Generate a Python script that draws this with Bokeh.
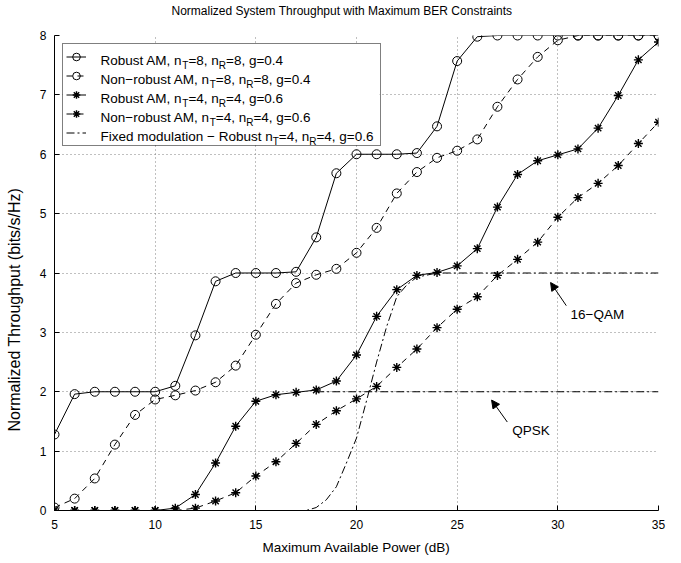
import re

from bokeh.plotting import figure
from bokeh.models import (Range1d, FixedTicker, Legend, LegendItem, Label,
                          Arrow, NormalHead, BoxAnnotation, Title)
from bokeh.embed import file_html
from bokeh.resources import INLINE

# ---- data -------------------------------------------------------------
power_db = list(range(5, 36))

robust_8x8 = [1.28, 1.96, 2.0, 2.0, 2.0, 2.0, 2.1, 2.95, 3.86, 4.0, 4.0, 4.0,
              4.02, 4.6, 5.68, 6.0, 6.0, 6.0, 6.02, 6.47, 7.57, 7.98,
              8.0, 8.0, 8.0, 8.0, 8.0, 8.0, 8.0, 8.0, 8.0]
nonrobust_8x8 = [0.05, 0.2, 0.54, 1.11, 1.61, 1.87, 1.94, 2.02, 2.16, 2.44,
                 2.96, 3.48, 3.83, 3.97, 4.07, 4.34, 4.76, 5.34, 5.70, 5.94,
                 6.06, 6.25, 6.80, 7.26, 7.64, 7.92, 8.0, 8.0, 8.0, 8.0, 8.0]
robust_4x4 = [0.0, 0.0, 0.0, 0.0, 0.0, 0.0, 0.04, 0.27, 0.80, 1.42, 1.84,
              1.95, 1.99, 2.03, 2.18, 2.62, 3.27, 3.72, 3.96, 4.01, 4.12,
              4.41, 5.11, 5.66, 5.89, 5.99, 6.09, 6.44, 6.99, 7.59, 7.89]
nonrobust_4x4 = [0.0, 0.0, 0.0, 0.0, 0.0, 0.0, 0.0, 0.04, 0.16, 0.30, 0.58,
                 0.82, 1.13, 1.45, 1.68, 1.88, 2.09, 2.41, 2.72, 3.08, 3.39,
                 3.60, 3.96, 4.23, 4.52, 4.94, 5.27, 5.51, 5.81, 6.18, 6.54]

# fixed modulation (robust, nT=4, nR=4, g=0.6)
fixed_db = [17.0, 17.5, 18.0, 18.5, 19.0, 19.5, 20.0, 20.5, 21.0, 21.5,
            22.0, 22.5, 23.0, 24.0, 35.0]
fixed_tp = [0.0, 0.0, 0.05, 0.18, 0.40, 0.80, 1.22, 1.85, 2.50, 3.10,
            3.60, 3.80, 3.93, 4.0, 4.0]
qpsk_db = [18.0, 35.0]
qpsk_tp = [2.0, 2.0]

legend_labels = [
    "Robust AM, n_{T}=8, n_{R}=8, g=0.4",
    "Non\u2212robust AM, n_{T}=8, n_{R}=8, g=0.4",
    "Robust AM, n_{T}=4, n_{R}=4, g=0.6",
    "Non\u2212robust AM, n_{T}=4, n_{R}=4, g=0.6",
    "Fixed modulation \u2212 Robust n_{T}=4, n_{R}=4, g=0.6",
]

x_ticks = [5, 10, 15, 20, 25, 30, 35]
y_ticks = [0, 1, 2, 3, 4, 5, 6, 7, 8]

# arrow annotations: (text, text_x, text_y, tail_x, tail_y, head_x, head_y)
notes = [
    ("16\u2212QAM", 30.63, 3.30, 30.42, 3.45, 29.64, 3.84),
    ("QPSK", 27.74, 1.35, 27.49, 1.49, 26.71, 1.86),
]

FONT = "Liberation Sans"

# plot frame in page pixels
FRAME_L, FRAME_R, FRAME_T, FRAME_B = 54, 658, 35, 510
X_LO, X_HI, Y_LO, Y_HI = 5, 35, 0, 8


def px_to_x(px):
    return X_LO + (px - FRAME_L) * (X_HI - X_LO) / (FRAME_R - FRAME_L)


def px_to_y(py):
    return Y_LO + (FRAME_B - py) * (Y_HI - Y_LO) / (FRAME_B - FRAME_T)


# ---- figure -----------------------------------------------------------
p = figure(width=681, height=563, output_backend="svg", toolbar_location=None,
           x_range=Range1d(X_LO, X_HI), y_range=Range1d(Y_LO, Y_HI),
           min_border_left=FRAME_L, min_border_right=681 - FRAME_R,
           min_border_top=FRAME_T, min_border_bottom=563 - FRAME_B,
           title=None)
p.outline_line_color = None
p.background_fill_color = "white"
p.border_fill_color = "white"

for ax, ticks in ((p.xaxis, x_ticks), (p.yaxis, y_ticks)):
    ax.ticker = FixedTicker(ticks=ticks)
    ax.major_tick_in = 5
    ax.major_tick_out = 0
    ax.minor_tick_line_color = None
    ax.axis_line_color = "black"
    ax.major_tick_line_color = "black"
    ax.major_label_text_font = FONT
    ax.major_label_text_font_size = "12px"
    ax.major_label_text_color = "black"
    ax.axis_label_text_font = FONT
    ax.axis_label_text_font_style = "normal"
    ax.axis_label_text_color = "black"

p.xaxis.major_label_standoff = 9
p.yaxis.major_label_standoff = 8
p.xaxis.axis_label = "Maximum Available Power (dB)"
p.xaxis.axis_label_text_font_size = "13.5px"
p.xaxis.axis_label_standoff = 8

# title above the frame, with a thin spacer between it and the frame
p.add_layout(Title(text=" ", text_font_size="1px", standoff=15), "above")
p.add_layout(Title(text="Normalized System Throughput with Maximum BER Constraints",
                   text_font=FONT, text_font_size="12px",
                   text_font_style="normal", text_color="black",
                   align="left", offset=117, standoff=0,
                   vertical_align="bottom"), "above")

# vertical axis title, placed to the left of the tick labels
p.add_layout(Title(text=" ", text_font_size="1px", standoff=11), "left")
p.add_layout(Title(text="Normalized Throughput (bits/s/Hz)",
                   text_font=FONT, text_font_size="16px",
                   text_font_style="normal", text_color="black",
                   align="left", offset=79, standoff=0,
                   vertical_align="bottom"), "left")

for g, ticks in ((p.xgrid, x_ticks), (p.ygrid, y_ticks)):
    g.ticker = FixedTicker(ticks=ticks)
    g.grid_line_color = "#808080"
    g.grid_line_dash = "1 3"
    g.grid_line_width = 1

# white panel behind the legend so the dotted grid does not show through
LEG_L, LEG_R, LEG_T, LEG_B = FRAME_L + 8, 379, FRAME_T + 8, 144
p.add_layout(BoxAnnotation(left=px_to_x(LEG_L), right=px_to_x(LEG_R),
                           top=px_to_y(LEG_T), bottom=px_to_y(LEG_B),
                           fill_color="white", fill_alpha=1,
                           line_color=None, level="underlay"))

# ---- series -----------------------------------------------------------
styles = [
    (robust_8x8, "solid", "circle"),
    (nonrobust_8x8, "6 5", "circle"),
    (robust_4x4, "solid", "asterisk"),
    (nonrobust_4x4, "6 5", "asterisk"),
]
items = []
for vals, dash, marker in styles:
    ln = p.line(power_db, vals, line_color="black", line_width=1, line_dash=dash)
    if marker == "circle":
        mk = p.scatter(power_db, vals, marker="circle", size=9, fill_color=None,
                       line_color="black", line_width=1)
    else:
        mk = p.scatter(power_db, vals, marker="asterisk", size=9,
                       line_color="black", line_width=1.4)
    items.append(LegendItem(label=" ", renderers=[ln, mk]))

fx = p.line(fixed_db, fixed_tp, line_color="black", line_width=1,
            line_dash="8 3 2 3")
p.line(qpsk_db, qpsk_tp, line_color="black", line_width=1, line_dash="8 3 2 3")
items.append(LegendItem(label=" ", renderers=[fx]))

legend = Legend(items=items, location="top_left", margin=8, padding=3,
                spacing=0, label_height=19, glyph_height=19, glyph_width=20,
                label_standoff=15, label_width=276, label_text_font_size="1px",
                border_line_color="black", border_line_width=1,
                background_fill_alpha=0)
p.add_layout(legend)

# ---- legend texts with subscripts ------------------------------------------
ARIAL = {" ": 278, ",": 278, "=": 584, ".": 278, "\u2212": 584, "-": 333,
         "A": 667, "B": 667, "C": 722, "E": 667, "F": 611, "K": 667, "M": 833,
         "N": 722, "P": 667, "Q": 778, "R": 722, "S": 667, "T": 611,
         "a": 556, "b": 556, "c": 500, "d": 556, "e": 556, "f": 278, "g": 556,
         "i": 222, "l": 222, "m": 833, "n": 556, "o": 556, "r": 333, "s": 500,
         "t": 278, "u": 556, "x": 500, "z": 500}


def text_width(s, size):
    return sum(ARIAL.get(ch, 556) for ch in s) * size / 1000.0


MAIN_SIZE, SUB_SIZE = 13.5, 10.0
text_left = LEG_L + 3 + 20 + 15
first_baseline = 60.0
row_step = 19.0

for row, lab in enumerate(legend_labels):
    px = float(text_left)
    base = first_baseline + row * row_step
    parts = re.split(r"_\{([^}]*)\}", lab)
    for k, piece in enumerate(parts):
        if not piece:
            continue
        sub = (k % 2 == 1)
        size = SUB_SIZE if sub else MAIN_SIZE
        p.add_layout(Label(x=px_to_x(px), y=px_to_y(base + (5 if sub else 0)),
                           text=piece, text_font=FONT,
                           text_font_size=f"{size}px", text_color="black",
                           text_baseline="alphabetic", text_align="left"))
        px += text_width(piece, size)

# ---- annotations ------------------------------------------------------
for txt, tx, ty, x0, y0, x1, y1 in notes:
    p.add_layout(Arrow(end=NormalHead(size=8, fill_color="black",
                                      line_color="black", line_width=1),
                       x_start=x0, y_start=y0, x_end=x1, y_end=y1,
                       line_color="black", line_width=1))
    p.add_layout(Label(x=tx, y=ty, text=txt, text_font=FONT,
                       text_font_size="13.5px", text_color="black",
                       text_baseline="middle", text_align="left"))

open("out.html", "w").write(file_html(p, INLINE))
